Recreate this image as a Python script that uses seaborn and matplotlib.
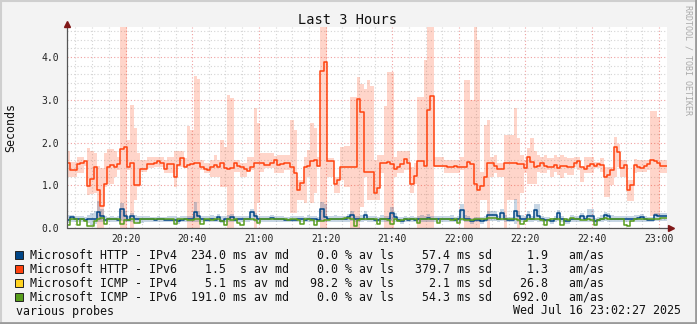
import numpy as np
import pandas as pd
import matplotlib
matplotlib.use("Agg")
import matplotlib.pyplot as plt
import matplotlib.dates as mdates
from matplotlib.ticker import MultipleLocator, FixedLocator
from matplotlib.patches import Rectangle
from matplotlib.lines import Line2D
import seaborn as sns

# ---------------- data (one value per minute, 20:02:27 -> 23:02:27) ----------------
start_time = "2025-07-16 20:02:27"
end_time = "2025-07-16 23:02:27"

http6_median = [
    1.51, 1.36, 1.36, 1.50, 1.53, 1.56, 0.98, 1.14, 1.43, 0.89, 0.51, 1.04, 1.43, 1.47, 1.43, 1.50, 1.84, 1.90, 1.43, 1.53, 1.01, 1.01, 1.37, 1.37, 1.50, 1.50, 1.53, 1.56, 1.53, 1.39,
    1.50, 1.50, 1.20, 1.47, 1.63, 1.43, 1.47, 1.50, 1.53, 1.53, 1.43, 1.38, 1.36, 1.43, 1.47, 1.43, 1.51, 1.40, 1.38, 1.40, 1.51, 1.46, 1.43, 1.39, 1.34, 1.43, 1.53, 1.51, 1.51, 1.47,
    1.47, 1.53, 1.59, 1.47, 1.50, 1.51, 1.51, 1.43, 1.29, 0.89, 1.06, 1.43, 1.45, 1.56, 1.59, 1.46, 3.68, 3.89, 1.56, 1.56, 1.03, 1.12, 1.42, 1.43, 1.42, 1.43, 1.43, 3.01, 2.72, 1.32,
    1.32, 1.32, 0.83, 0.93, 1.51, 1.53, 1.55, 1.50, 1.37, 1.43, 1.50, 1.61, 1.53, 1.02, 1.22, 1.57, 1.57, 1.46, 2.77, 3.09, 1.46, 1.46, 1.46, 1.44, 1.43, 1.43, 1.44, 1.43, 1.42, 1.43,
    1.55, 1.50, 1.03, 0.89, 0.98, 1.19, 1.53, 1.53, 1.45, 1.38, 1.38, 1.53, 1.51, 1.51, 1.51, 1.50, 1.50, 1.40, 1.65, 1.55, 1.43, 1.46, 1.53, 1.46, 1.43, 1.43, 1.47, 1.40, 1.46, 1.46,
    1.43, 1.43, 1.53, 1.56, 1.43, 1.38, 1.45, 1.50, 1.46, 1.49, 1.47, 1.20, 1.23, 1.36, 1.89, 1.77, 1.40, 1.47, 0.89, 1.01, 1.47, 1.43, 1.41, 1.45, 1.50, 1.59, 1.56, 1.53, 1.46, 1.46,
]
http6_smoke_hi = [
    1.79, 1.55, 1.55, 1.67, 1.67, 1.57, 1.86, 1.80, 1.75, 1.45, 1.40, 1.75, 1.84, 1.84, 1.79, 1.67, 4.80, 4.80, 2.06, 2.88, 2.33, 1.75, 1.59, 1.59, 1.67, 1.67, 1.65, 1.65, 1.65, 1.59,
    1.67, 1.67, 1.79, 1.79, 1.79, 1.63, 2.39, 2.29, 3.56, 3.48, 1.59, 1.51, 1.51, 1.59, 1.71, 1.59, 2.06, 1.90, 3.11, 3.03, 1.59, 1.59, 1.51, 1.51, 1.67, 1.67, 2.80, 2.46, 1.75, 1.75,
    1.75, 1.75, 1.68, 1.71, 1.71, 1.71, 1.71, 2.53, 2.29, 1.12, 1.12, 1.67, 1.82, 2.45, 2.33, 1.67, 4.80, 4.80, 1.63, 1.63, 1.20, 1.20, 1.90, 1.92, 1.92, 3.06, 3.06, 3.54, 3.38, 3.25,
    3.46, 3.33, 1.59, 1.71, 1.71, 2.85, 3.66, 3.66, 1.67, 1.79, 1.79, 1.79, 1.79, 1.43, 1.51, 3.07, 3.07, 3.93, 4.80, 4.80, 1.67, 1.67, 1.67, 1.59, 1.59, 1.59, 1.59, 1.59, 1.67, 3.46,
    3.46, 3.00, 4.80, 4.40, 1.32, 2.41, 2.53, 1.67, 1.71, 1.51, 1.51, 2.18, 2.18, 2.18, 2.80, 2.10, 1.71, 1.59, 1.86, 2.10, 1.79, 1.71, 1.67, 1.71, 1.63, 1.63, 1.71, 1.67, 1.71, 1.67,
    1.63, 1.63, 1.67, 1.67, 1.43, 1.67, 1.67, 1.67, 1.55, 1.55, 1.63, 1.43, 1.43, 1.43, 2.12, 1.96, 1.59, 1.59, 1.12, 1.12, 1.61, 1.59, 1.59, 1.59, 1.59, 2.74, 2.74, 2.60, 1.59, 1.59,
]
http6_smoke_lo = [
    1.20, 1.20, 1.20, 1.28, 1.28, 1.45, 0.77, 0.80, 0.81, 0.00, 0.00, 0.97, 1.04, 1.04, 1.20, 1.36, 0.00, 0.00, 1.36, 0.00, 0.65, 0.97, 1.32, 1.32, 1.40, 1.40, 1.43, 1.43, 1.43, 1.28,
    1.28, 1.28, 0.97, 1.43, 1.43, 1.43, 0.00, 0.00, 0.00, 0.00, 1.36, 1.28, 1.28, 1.20, 1.20, 1.20, 0.97, 0.97, 0.00, 0.00, 1.32, 1.32, 1.20, 1.20, 1.36, 1.36, 0.00, 0.58, 1.30, 1.40,
    1.40, 1.40, 1.28, 1.28, 1.28, 1.36, 1.36, 0.34, 0.34, 0.65, 0.65, 0.58, 1.20, 0.58, 0.81, 1.43, 0.00, 0.00, 1.20, 1.20, 0.81, 0.81, 1.12, 0.97, 0.97, 0.00, 0.00, 0.00, 0.50, 1.20,
    0.65, 0.65, 0.65, 0.65, 1.28, 0.00, 0.00, 0.00, 1.20, 1.28, 1.28, 1.36, 1.36, 0.81, 1.04, 0.00, 0.00, 0.00, 0.00, 0.00, 1.43, 1.43, 1.43, 1.28, 1.28, 1.28, 1.28, 1.28, 1.36, 0.00,
    0.00, 0.00, 0.00, 0.00, 0.65, 0.65, 0.00, 1.20, 1.28, 1.20, 1.20, 0.00, 0.65, 0.65, 0.65, 0.00, 0.81, 1.28, 1.04, 1.04, 1.04, 1.32, 1.28, 1.28, 1.36, 1.20, 1.32, 1.24, 1.16, 1.28,
    1.24, 1.24, 1.43, 1.36, 1.08, 1.28, 1.28, 1.28, 1.40, 1.40, 1.32, 0.73, 0.73, 1.01, 1.20, 1.43, 1.20, 1.20, 0.62, 0.62, 1.28, 1.32, 1.32, 1.32, 1.36, 0.27, 0.27, 0.27, 1.28, 1.28,
]
http4_median = [
    0.19, 0.25, 0.20, 0.20, 0.22, 0.19, 0.20, 0.20, 0.20, 0.37, 0.27, 0.19, 0.20, 0.20, 0.20, 0.19, 0.44, 0.27, 0.19, 0.28, 0.22, 0.22, 0.20, 0.20, 0.21, 0.20, 0.19, 0.20, 0.20, 0.19,
    0.19, 0.19, 0.19, 0.16, 0.19, 0.20, 0.20, 0.20, 0.38, 0.27, 0.20, 0.19, 0.19, 0.22, 0.19, 0.25, 0.17, 0.20, 0.22, 0.25, 0.19, 0.20, 0.20, 0.20, 0.20, 0.37, 0.27, 0.20, 0.20, 0.20,
    0.20, 0.23, 0.20, 0.20, 0.20, 0.19, 0.19, 0.19, 0.19, 0.20, 0.20, 0.19, 0.22, 0.20, 0.20, 0.19, 0.44, 0.25, 0.20, 0.20, 0.22, 0.20, 0.20, 0.20, 0.25, 0.30, 0.20, 0.20, 0.22, 0.31,
    0.20, 0.20, 0.19, 0.19, 0.22, 0.20, 0.20, 0.36, 0.25, 0.19, 0.17, 0.20, 0.19, 0.20, 0.19, 0.20, 0.22, 0.20, 0.23, 0.20, 0.20, 0.20, 0.20, 0.20, 0.20, 0.22, 0.19, 0.20, 0.41, 0.20,
    0.20, 0.16, 0.19, 0.19, 0.17, 0.19, 0.30, 0.30, 0.30, 0.20, 0.36, 0.22, 0.19, 0.19, 0.39, 0.27, 0.22, 0.20, 0.30, 0.20, 0.41, 0.28, 0.20, 0.19, 0.19, 0.16, 0.20, 0.34, 0.20, 0.16,
    0.16, 0.22, 0.20, 0.20, 0.27, 0.20, 0.28, 0.28, 0.16, 0.19, 0.22, 0.30, 0.27, 0.22, 0.20, 0.20, 0.20, 0.20, 0.20, 0.20, 0.22, 0.23, 0.25, 0.20, 0.19, 0.19, 0.31, 0.28, 0.28, 0.28,
]
http4_smoke_hi = [
    0.30, 0.30, 0.28, 0.28, 0.28, 0.26, 0.30, 0.36, 0.40, 0.62, 0.45, 0.28, 0.26, 0.27, 0.26, 0.28, 0.59, 0.40, 0.28, 0.35, 0.30, 0.28, 0.27, 0.27, 0.27, 0.26, 0.26, 0.27, 0.26, 0.26,
    0.27, 0.27, 0.28, 0.26, 0.27, 0.27, 0.28, 0.28, 0.60, 0.40, 0.28, 0.27, 0.27, 0.30, 0.28, 0.33, 0.27, 0.28, 0.30, 0.33, 0.27, 0.27, 0.28, 0.27, 0.27, 0.45, 0.35, 0.28, 0.27, 0.27,
    0.27, 0.30, 0.27, 0.27, 0.27, 0.26, 0.26, 0.27, 0.27, 0.27, 0.28, 0.26, 0.30, 0.28, 0.27, 0.26, 0.60, 0.55, 0.28, 0.27, 0.30, 0.27, 0.27, 0.28, 0.33, 0.40, 0.28, 0.27, 0.30, 0.40,
    0.28, 0.27, 0.27, 0.26, 0.30, 0.27, 0.28, 0.48, 0.35, 0.26, 0.25, 0.28, 0.26, 0.27, 0.26, 0.28, 0.30, 0.28, 0.32, 0.28, 0.27, 0.27, 0.27, 0.27, 0.27, 0.30, 0.26, 0.28, 0.55, 0.30,
    0.27, 0.24, 0.26, 0.26, 0.25, 0.27, 0.40, 0.40, 0.40, 0.28, 0.45, 0.30, 0.26, 0.26, 0.69, 0.40, 0.30, 0.28, 0.40, 0.28, 0.55, 0.55, 0.28, 0.26, 0.26, 0.24, 0.28, 0.42, 0.28, 0.24,
    0.24, 0.30, 0.28, 0.28, 0.36, 0.28, 0.45, 0.45, 0.24, 0.26, 0.30, 0.38, 0.35, 0.30, 0.28, 0.28, 0.27, 0.27, 0.27, 0.27, 0.30, 0.30, 0.33, 0.28, 0.26, 0.26, 0.36, 0.35, 0.35, 0.35,
]
http4_smoke_lo = [
    0.12, 0.14, 0.13, 0.14, 0.14, 0.13, 0.12, 0.08, 0.10, 0.14, 0.14, 0.13, 0.13, 0.14, 0.14, 0.13, 0.16, 0.14, 0.14, 0.15, 0.14, 0.12, 0.12, 0.14, 0.14, 0.13, 0.14, 0.13, 0.13, 0.13,
    0.14, 0.14, 0.12, 0.10, 0.13, 0.14, 0.14, 0.14, 0.14, 0.15, 0.14, 0.13, 0.13, 0.14, 0.13, 0.15, 0.12, 0.14, 0.14, 0.15, 0.13, 0.14, 0.14, 0.14, 0.14, 0.16, 0.15, 0.14, 0.14, 0.14,
    0.14, 0.15, 0.14, 0.14, 0.14, 0.13, 0.13, 0.13, 0.13, 0.14, 0.14, 0.13, 0.14, 0.14, 0.14, 0.13, 0.16, 0.15, 0.14, 0.14, 0.14, 0.14, 0.14, 0.14, 0.15, 0.16, 0.14, 0.14, 0.14, 0.16,
    0.14, 0.14, 0.13, 0.13, 0.14, 0.14, 0.14, 0.16, 0.15, 0.13, 0.10, 0.14, 0.13, 0.14, 0.13, 0.14, 0.14, 0.14, 0.15, 0.14, 0.14, 0.14, 0.14, 0.14, 0.14, 0.14, 0.13, 0.14, 0.16, 0.14,
    0.14, 0.10, 0.13, 0.13, 0.10, 0.13, 0.16, 0.16, 0.16, 0.14, 0.16, 0.14, 0.13, 0.13, 0.10, 0.15, 0.14, 0.14, 0.15, 0.14, 0.16, 0.15, 0.14, 0.13, 0.13, 0.10, 0.14, 0.16, 0.14, 0.10,
    0.10, 0.14, 0.14, 0.14, 0.15, 0.14, 0.15, 0.15, 0.10, 0.13, 0.14, 0.16, 0.15, 0.14, 0.14, 0.14, 0.14, 0.14, 0.14, 0.14, 0.14, 0.15, 0.15, 0.14, 0.13, 0.13, 0.16, 0.16, 0.16, 0.16,
]
icmp6_median = [
    0.07, 0.20, 0.20, 0.07, 0.20, 0.16, 0.05, 0.05, 0.17, 0.20, 0.23, 0.09, 0.20, 0.20, 0.20, 0.20, 0.09, 0.19, 0.19, 0.22, 0.11, 0.11, 0.20, 0.20, 0.20, 0.20, 0.20, 0.20, 0.20, 0.20,
    0.20, 0.20, 0.09, 0.22, 0.22, 0.22, 0.19, 0.19, 0.22, 0.22, 0.09, 0.21, 0.21, 0.19, 0.22, 0.22, 0.17, 0.07, 0.20, 0.19, 0.20, 0.11, 0.07, 0.20, 0.20, 0.22, 0.19, 0.11, 0.20, 0.20,
    0.20, 0.22, 0.22, 0.22, 0.20, 0.20, 0.19, 0.22, 0.22, 0.19, 0.09, 0.20, 0.22, 0.19, 0.06, 0.17, 0.17, 0.19, 0.19, 0.20, 0.20, 0.20, 0.22, 0.23, 0.23, 0.22, 0.05, 0.19, 0.20, 0.20,
    0.20, 0.20, 0.20, 0.09, 0.22, 0.22, 0.19, 0.09, 0.20, 0.17, 0.19, 0.22, 0.20, 0.20, 0.20, 0.12, 0.20, 0.22, 0.22, 0.20, 0.20, 0.11, 0.20, 0.20, 0.22, 0.19, 0.20, 0.11, 0.20, 0.19,
    0.19, 0.19, 0.20, 0.20, 0.20, 0.22, 0.23, 0.23, 0.23, 0.22, 0.22, 0.22, 0.22, 0.22, 0.20, 0.19, 0.09, 0.17, 0.22, 0.20, 0.22, 0.20, 0.19, 0.08, 0.19, 0.20, 0.22, 0.20, 0.08, 0.20,
    0.19, 0.23, 0.20, 0.20, 0.19, 0.19, 0.20, 0.19, 0.08, 0.19, 0.22, 0.23, 0.22, 0.22, 0.20, 0.20, 0.20, 0.08, 0.05, 0.17, 0.20, 0.20, 0.22, 0.22, 0.22, 0.22, 0.22, 0.22, 0.23, 0.23,
]

# legend
series_names = ["Microsoft HTTP - IPv4", "Microsoft HTTP - IPv6",
                "Microsoft ICMP - IPv4", "Microsoft ICMP - IPv6"]
series_colors = ["#004586", "#ff420e", "#ffd320", "#579d1c"]
stat_median = ["234.0", "1.5", "5.1", "191.0"]
stat_unit = ["ms", "s", "ms", "ms"]
stat_loss = ["0.0", "0.0", "98.2", "0.0"]
stat_sd = ["57.4", "379.7", "2.1", "54.3"]
stat_amas = ["1.9", "1.3", "26.8", "692.0"]

x_tick_labels = ["20:20", "20:40", "21:00", "21:20", "21:40", "22:00", "22:20", "22:40", "23:00"]
y_tick_values = [0.0, 1.0, 2.0, 3.0, 4.0]

title = "Last 3 Hours"
y_label = "Seconds"
footer_left = "various probes"
footer_right = "Wed Jul 16 23:02:27 2025"
side_text = "RRDTOOL / TOBI OETIKER"

# ---------------- figure ----------------
sns.set_theme(style="white")
plt.rcParams['font.family'] = ['DejaVu Sans Mono', 'DejaVu Sans']

W, H = 697, 324
fig = plt.figure(figsize=(W / 100, H / 100), dpi=100, facecolor="#f3f3f3")
ax = fig.add_axes([67 / W, (H - 228) / H, 600 / W, 201 / H])
ax.set_facecolor("white")

times = pd.date_range(start_time, periods=len(http6_median), freq="min")
edges = times.append(pd.DatetimeIndex([pd.Timestamp(end_time)]))


def ext(a):
    a = np.asarray(a, dtype=float)
    return np.append(a, a[-1])


# smoke
ax.fill_between(edges, ext(http6_smoke_lo), ext(http6_smoke_hi), step="post",
                color=series_colors[1], alpha=0.22, lw=0, zorder=2)
ax.fill_between(edges, ext(http4_smoke_lo), ext(http4_smoke_hi), step="post",
                color=series_colors[0], alpha=0.22, lw=0, zorder=2)

# median lines
for vals, col in [(http4_median, series_colors[0]), (http6_median, series_colors[1]),
                  (icmp6_median, series_colors[3])]:
    sns.lineplot(x=edges, y=ext(vals), ax=ax, color=col, linewidth=1.1,
                 drawstyle="steps-post", estimator=None, zorder=4)

ax.set_xlim(pd.Timestamp(start_time), pd.Timestamp(end_time))
ax.set_ylim(0, 4.702)

# ticks & grid
day = start_time.split(" ")[0]
xt = [mdates.date2num(pd.Timestamp(f"{day} {lab}")) for lab in x_tick_labels]
ax.xaxis.set_major_locator(FixedLocator(xt))
ax.set_xticklabels(x_tick_labels)
ax.xaxis.set_minor_locator(mdates.MinuteLocator(byminute=range(0, 60, 5)))
ax.set_yticks(y_tick_values)
ax.set_yticklabels([f"{v:.1f}" for v in y_tick_values])
ax.yaxis.set_minor_locator(MultipleLocator(0.2))
ax.tick_params(which="both", length=0)
ax.tick_params(axis="y", pad=5.5, labelsize=7, labelcolor="#222222")
ax.tick_params(axis="x", pad=4, labelsize=7, labelcolor="#222222")
ax.grid(which="minor", color="#d4d4d4", linestyle=(0, (1, 2)), linewidth=0.8, zorder=1)
ax.grid(which="major", color="#f0a0a0", linestyle=(0, (1, 2)), linewidth=0.8, zorder=1)
ax.set_axisbelow(True)
ax.set_xlabel("")
ax.set_ylabel("")
for s in ax.spines.values():
    s.set_visible(False)

# axis lines with arrows
ax.plot([0, 0], [0, 1.02], transform=ax.transAxes, color="#555555", lw=0.9, clip_on=False, zorder=6)
ax.plot([0, 1.008], [0, 0], transform=ax.transAxes, color="#555555", lw=0.9, clip_on=False, zorder=6)
ax.plot([0], [1.016], transform=ax.transAxes, marker="^", ms=4.5, color="#801818", clip_on=False, zorder=7)
ax.plot([1.006], [0], transform=ax.transAxes, marker=">", ms=4.5, color="#801818", clip_on=False, zorder=7)


def fx(px):
    return px / W


def fy(py):
    return 1 - py / H


fig.text(fx(348), fy(24), title, ha="center", va="baseline", fontsize=9.8, color="#111111")
fig.text(fx(11), fy(127), y_label, rotation=90, ha="center", va="center", fontsize=8.4, color="#111111")
fig.text(fx(688), fy(5), side_text, rotation=270, ha="center", va="top", fontsize=6, color="#aaaaaa")

for i in range(4):
    base = 258.5 + 14 * i
    fig.patches.append(Rectangle((fx(15), fy(base)), 8 / W, 8 / H, transform=fig.transFigure,
                                 facecolor=series_colors[i], edgecolor="#222222", lw=0.7))
    line = (f"{series_names[i]:<21}  {stat_median[i]:>5} {stat_unit[i]:>2} av md"
            f"{stat_loss[i]:>7} % av ls{stat_sd[i]:>8} ms sd{stat_amas[i]:>8}   am/as")
    fig.text(fx(30), fy(base), line, ha="left", va="baseline", fontsize=8.4, color="#111111")

fig.text(fx(16), fy(314.5), footer_left, ha="left", va="baseline", fontsize=8.4, color="#111111")
fig.text(fx(681), fy(314.5), footer_right, ha="right", va="baseline", fontsize=8.4, color="#111111")

# outer frame
fig.add_artist(Line2D([0, 1], [fy(0.5), fy(0.5)], transform=fig.transFigure, color="#cfcfcf", lw=1.5))
fig.add_artist(Line2D([fx(0.5), fx(0.5)], [0, 1], transform=fig.transFigure, color="#cfcfcf", lw=1.5))
fig.add_artist(Line2D([0, 1], [fy(323), fy(323)], transform=fig.transFigure, color="#9a9a9a", lw=2))
fig.add_artist(Line2D([fx(696), fx(696)], [0, 1], transform=fig.transFigure, color="#9a9a9a", lw=2))

fig.savefig("out.png", dpi=100, facecolor=fig.get_facecolor())
